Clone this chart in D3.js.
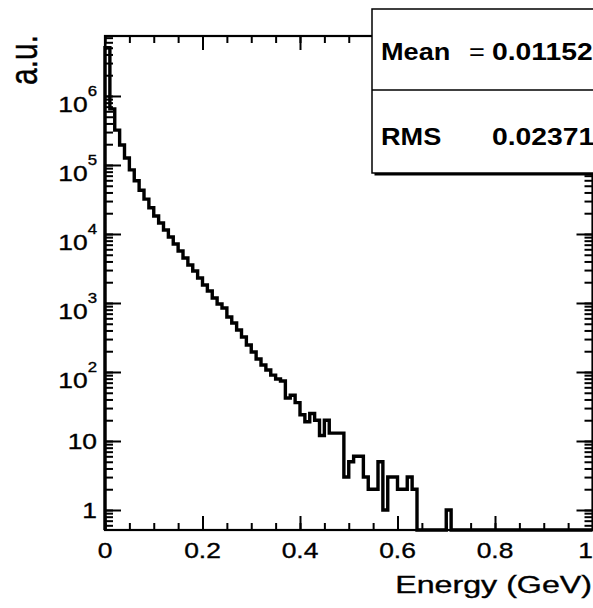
<!DOCTYPE html>
<html>
<head>
<meta charset="utf-8">
<script src="https://cdn.jsdelivr.net/npm/d3@7"></script>
<style>
  html, body { margin: 0; padding: 0; background: #fff; overflow: hidden; }
  text { font-family: "Liberation Sans", Arial, Helvetica, sans-serif; fill: #000; }
  text.soft { stroke: #000; stroke-width: 0.35; }
</style>
</head>
<body>
<svg id="chart" width="593" height="608"></svg>
<script>
// Energy histogram: 100 bins on [0, 1] GeV, entries per bin
const xRange = [0, 1];
const nBins = 100;
const counts = [
  5.0e6, 6.5e5, 3.2e5, 1.95e5, 1.26e5, 8.5e4, 5.9e4, 4.3e4, 3.2e4, 2.4e4,
  18200, 14400, 11400, 9060, 7160, 5680, 4490, 3560, 2910, 2300,
  1820, 1490, 1180, 968, 847, 627, 513, 406, 321, 246,
  195, 154, 126, 107, 90, 79, 74, 42, 46, 36,
  24, 19, 25, 20, 12, 20, 13, 13, 13, 3,
  5, 6, 6, 3, 2, 2, 5, 1, 3, 3,
  2, 2, 3, 2, 0, 0, 0, 0, 0, 0,
  1, 0, 0, 0, 0, 0, 0, 0, 0, 0,
  0, 0, 0, 0, 0, 0, 0, 0, 0, 0,
  0, 0, 0, 0, 0, 0, 0, 0, 0, 0
];

const xMajorTicks = [0, 0.2, 0.4, 0.6, 0.8, 1];
const xTickLabels = ["0", "0.2", "0.4", "0.6", "0.8", "1"];
const yDecades = [0, 1, 2, 3, 4, 5, 6];
const yDomain = [0.513, 7.4e6];

const statNames = ["Mean", "RMS"];
const statSeparators = ["=", ""];
const statValues = ["0.01152", "0.02371"];

const xTitle = "Energy (GeV)";
const yTitle = "a.u.";

// ---- layout ----
const frame = { left: 105, right: 592.5, top: 36, bottom: 530 };
const svg = d3.select("#chart");

const x = d3.scaleLinear().domain(xRange).range([frame.left, frame.right]);
const y = d3.scaleLog().domain(yDomain).range([frame.bottom, frame.top]);

// ---- histogram outline ----
const binW = (xRange[1] - xRange[0]) / nBins;
const pts = [{ e: xRange[0], v: yDomain[0] }];
counts.forEach((c, i) => pts.push({ e: xRange[0] + i * binW, v: c }));
pts.push({ e: xRange[1], v: counts[nBins - 1] });
pts.push({ e: xRange[1], v: yDomain[0] });

const line = d3.line()
  .x(d => x(d.e))
  .y(d => y(Math.max(d.v, yDomain[0])))
  .curve(d3.curveStepAfter);

svg.append("path")
  .datum(pts)
  .attr("d", line)
  .attr("fill", "none")
  .attr("stroke", "#000")
  .attr("stroke-width", 3.4)
  .attr("stroke-linejoin", "miter");

// ---- ticks (drawn inward on all four sides) ----
const xMinor = d3.range(0, 1.0001, 0.05).map(v => +v.toFixed(2));
const yMinor = [];
for (let d = -1; d <= 6; d++) for (let m = 1; m <= 9; m++) {
  const v = m * Math.pow(10, d);
  if (v >= yDomain[0] && v <= yDomain[1]) yMinor.push(v);
}
const yMajor = yDecades.map(d => Math.pow(10, d));

function tickAxis(gen, vals, size, tx, ty) {
  const g = svg.append("g").attr("transform", `translate(${tx},${ty})`)
    .call(gen.tickValues(vals).tickSize(size).tickFormat(""));
  g.select(".domain").remove();
  g.selectAll(".tick line").attr("stroke", "#000").attr("stroke-width", 2);
}
tickAxis(d3.axisBottom(x), xMinor, -7, 0, frame.bottom);
tickAxis(d3.axisBottom(x), xMajorTicks, -14, 0, frame.bottom);
tickAxis(d3.axisTop(x), xMinor, -7, 0, frame.top);
tickAxis(d3.axisTop(x), xMajorTicks, -14, 0, frame.top);
tickAxis(d3.axisLeft(y), yMinor, -8, frame.left, 0);
tickAxis(d3.axisLeft(y), yMajor, -16, frame.left, 0);
tickAxis(d3.axisRight(y), yMinor, -8, frame.right, 0);
tickAxis(d3.axisRight(y), yMajor, -16, frame.right, 0);

// ---- frame ----
svg.append("rect")
  .attr("x", frame.left).attr("y", frame.top)
  .attr("width", frame.right - frame.left).attr("height", frame.bottom - frame.top)
  .attr("fill", "none").attr("stroke", "#000").attr("stroke-width", 2.2);

// ---- x tick labels ----
svg.append("g").selectAll("text")
  .data(xMajorTicks)
  .join("text")
  .attr("class", "soft")
  .attr("transform", d => d === 1
    ? `translate(593,558) scale(1.2,1)`
    : `translate(${x(d)},558) scale(1.2,1)`)
  .attr("text-anchor", d => d === 1 ? "end" : "middle")
  .attr("font-size", 22)
  .text((d, i) => xTickLabels[i]);

// ---- y tick labels (powers of ten) ----
const yl = svg.append("g");
yDecades.forEach(d => {
  const ty = y(Math.pow(10, d));
  if (d === 0 || d === 1) {
    yl.append("text")
      .attr("class", "soft")
      .attr("transform", `translate(97,${ty + 8}) scale(1.2,1)`)
      .attr("text-anchor", "end")
      .attr("font-size", 22)
      .text(d === 0 ? "1" : "10");
  } else {
    const t = yl.append("text")
      .attr("class", "soft")
      .attr("transform", `translate(97,${ty + 16}) scale(1.2,1)`)
      .attr("text-anchor", "end")
      .attr("font-size", 22);
    t.append("tspan").text("10");
    t.append("tspan").attr("font-size", 14).attr("dy", -16).text(String(d));
  }
});

// ---- axis titles ----
svg.append("text")
  .attr("class", "soft")
  .attr("transform", "translate(592,593) scale(1.4,1)")
  .attr("text-anchor", "end")
  .attr("font-size", 23)
  .text(xTitle);

svg.append("text")
  .attr("class", "soft")
  .attr("transform", "translate(37,35) scale(1.27,1) rotate(-90)")
  .attr("text-anchor", "end")
  .attr("font-size", 30)
  .text(yTitle);

// ---- statistics box ----
const box = { x: 372, y: 9, w: 260, h: 164, split: 90 };
svg.append("rect")
  .attr("x", box.x + 2.5).attr("y", box.y + 2.5)
  .attr("width", box.w).attr("height", box.h)
  .attr("fill", "#000");
svg.append("rect")
  .attr("x", box.x).attr("y", box.y)
  .attr("width", box.w).attr("height", box.h)
  .attr("fill", "#fff").attr("stroke", "#000").attr("stroke-width", 1.5);
svg.append("line")
  .attr("x1", box.x).attr("x2", box.x + box.w)
  .attr("y1", box.split).attr("y2", box.split)
  .attr("stroke", "#000").attr("stroke-width", 1.5);

const statBase = [60, 145];
statNames.forEach((n, i) => {
  svg.append("text")
    .attr("transform", `translate(381,${statBase[i]}) scale(1.13,1)`)
    .attr("font-size", 24).attr("font-weight", "bold")
    .text(n);
  if (statSeparators[i]) {
    svg.append("text")
      .attr("transform", `translate(469,${statBase[i]}) scale(1.13,1)`)
      .attr("font-size", 24)
      .text(statSeparators[i]);
  }
  svg.append("text")
    .attr("transform", `translate(492,${statBase[i]}) scale(1.18,1)`)
    .attr("font-size", 24).attr("font-weight", "bold")
    .text(statValues[i]);
});
</script>
</body>
</html>
